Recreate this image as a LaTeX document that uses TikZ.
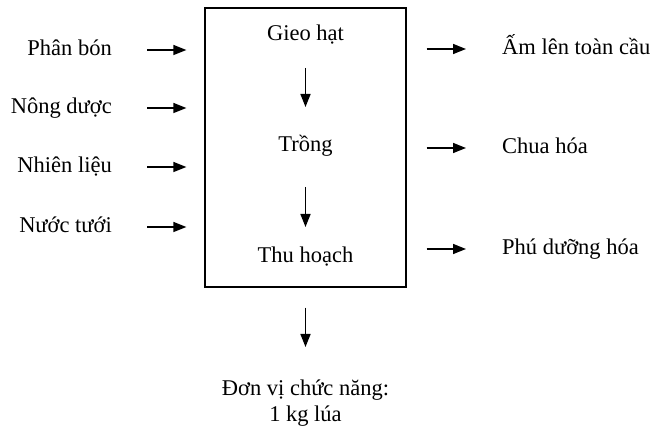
\documentclass[tikz,border=0pt]{standalone}
\usepackage{fontspec}
\setmainfont{Liberation Serif}
\usetikzlibrary{arrows.meta}

\begin{document}
\begin{tikzpicture}[x=1pt, y=-1pt,
every node/.style={font=\fontsize{22.5}{26}\selectfont, inner sep=0pt},
line/.style={text height=16pt, text depth=4pt},
stage/.style={line, align=center},
input/.style={line, anchor=east},
impact/.style={line, anchor=west},
system/.style={draw=black, line width=1.3pt, minimum width=201pt, minimum height=279pt},
flow/.style={-{Triangle[length=13pt, width=10pt]}, line width=1.5pt},
]
\useasboundingbox (0,0) rectangle (651,427);

% Define a grid using coordinates
\coordinate (mid) at (305.5,147.5);   % System boundary centre
\coordinate (st1) at (305.5,35);      % Top stage
\coordinate (st2) at (305.5,146);     % Middle stage
\coordinate (st3) at (305.5,257);     % Bottom stage
\coordinate (in1) at (112,50);        % Inputs, left
\coordinate (in2) at (112,108);
\coordinate (in3) at (112,167);
\coordinate (in4) at (112,227);
\coordinate (out1) at (502,49);       % Impacts, right
\coordinate (out2) at (502,148);
\coordinate (out3) at (502,249);
\coordinate (fu) at (305.5,380);      % Functional unit, bottom

% Nodes at grid points
\node[system] (box) at (mid) {};

\node[stage] (gieo) at (st1) {Gieo hạt};
\node[stage] (trong) at (st2) {Trồng};
\node[stage] (thu) at (st3) {Thu hoạch};

\node[input] (phan) at (in1) {Phân bón};
\node[input] (nong) at (in2) {Nông dược};
\node[input] (nhien) at (in3) {Nhiên liệu};
\node[input] (nuoc) at (in4) {Nước tưới};

\node[impact] (am) at (out1) {Ấm lên toàn cầu};
\node[impact] (chua) at (out2) {Chua hóa};
\node[impact] (phu) at (out3) {Phú dưỡng hóa};

\node[align=center, anchor=north] (unit) at (fu) {Đơn vị chức năng:\\1 kg lúa};

% Draw connecting arrows
\draw[flow, shorten <=33pt, shorten >=39pt] (gieo.center) to (trong.center);
\draw[flow, shorten <=41pt, shorten >=30pt] (trong.center) to (thu.center);

\draw[flow, shorten <=35pt, shorten >=18pt] (phan.east) to (phan.east -| box.west);
\draw[flow, shorten <=35pt, shorten >=18pt] (nong.east) to (nong.east -| box.west);
\draw[flow, shorten <=35pt, shorten >=18pt] (nhien.east) to (nhien.east -| box.west);
\draw[flow, shorten <=35pt, shorten >=18pt] (nuoc.east) to (nuoc.east -| box.west);

\draw[flow, shorten <=20pt, shorten >=36pt] (am.west -| box.east) to (am.west);
\draw[flow, shorten <=20pt, shorten >=36pt] (chua.west -| box.east) to (chua.west);
\draw[flow, shorten <=20pt, shorten >=36pt] (phu.west -| box.east) to (phu.west);

\draw[flow, shorten <=20pt, shorten >=33pt] (box.south) to (unit.north);

\end{tikzpicture}
\end{document}
